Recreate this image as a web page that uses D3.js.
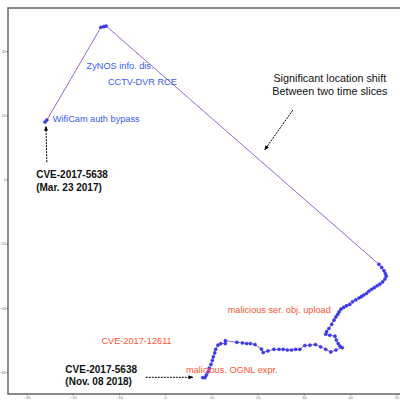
<!DOCTYPE html>
<html>
<head>
<meta charset="utf-8">
<script src="https://cdn.jsdelivr.net/npm/d3@7"></script>
<style>
  body { margin: 0; background: #fff; }
  svg { display: block; font-family: "Liberation Sans", Arial, sans-serif; }
</style>
</head>
<body>
<script>
// trajectory in time order (Mar 2017 -> Nov 2018)
const trajX = [-26.0, -25.6, -13.9, -13.3, -12.8,
  46.2, 46.8, 47.3, 47.6, 47.8, 47.5, 47.0, 46.4, 45.8, 45.2, 44.6, 44.0, 43.5, 42.9, 42.4,
  41.9, 41.2, 40.5, 39.9, 39.2, 38.6, 38.0, 37.6, 37.3, 36.9, 36.5, 36.0, 35.4, 34.9, 34.7,
  35.6, 36.7, 37.0, 37.4, 37.8, 38.3, 36.9, 35.8, 34.7, 33.6, 32.5, 31.3, 30.2, 29.1, 28.2,
  27.3, 26.4, 25.5, 24.6, 23.5, 22.2, 21.2, 20.8, 19.4, 18.4, 17.6, 16.7, 15.5, 13.0, 13.0,
  12.0, 11.4, 10.9, 10.7, 10.4, 10.2, 9.9, 9.5, 9.3, 8.9, 8.6, 8.1];
const trajY = [17.9, 18.5, 47.4, 47.6, 47.8,
  -26.4, -27.4, -28.4, -29.3, -30.1, -31.0, -31.9, -32.6, -33.1, -33.7, -34.2, -34.8, -35.5, -36.0, -36.5,
  -36.9, -37.5, -38.1, -38.9, -39.3, -39.8, -40.4, -41.2, -42.0, -42.8, -43.8, -45.1, -46.4, -47.4, -48.2,
  -48.5, -48.8, -50.0, -51.1, -51.9, -52.4, -53.1, -53.7, -52.9, -52.1, -51.4, -51.6, -51.7, -52.9, -52.9,
  -53.1, -53.1, -52.9, -52.9, -52.9, -53.4, -53.9, -52.8, -51.4, -51.1, -51.1, -50.9, -50.7, -50.2, -51.1,
  -51.1, -51.6, -52.9, -54.0, -55.2, -56.3, -57.6, -58.8, -59.9, -60.9, -61.7, -61.7];

const xTicks = [-30, -20, -10, 0, 10, 20, 30, 40, 50];
const yTicks = [-60, -40, -20, 0, 20, 40];

// labels: [text, x, y, kind]
const labels = [
  ["ZyNOS info. dis.", -17.0, 35.3, "blue"],
  ["CCTV-DVR RCE", -12.4, 30.3, "blue"],
  ["WifiCam auth bypass", -24.3, 18.8, "blue"],
  ["CVE-2017-5638", -27.9, 1.7, "bold"],
  ["(Mar. 23 2017)", -27.9, -2.4, "bold"],
  ["Significant location shift", 35.6, 31.6, "note"],
  ["Between two time slices", 35.6, 27.5, "note"],
  ["malicious ser. obj. upload", 13.5, -40.5, "red"],
  ["CVE-2017-12611", -13.8, -50.2, "red"],
  ["malicious. OGNL expr.", 4.5, -59.2, "red"],
  ["CVE-2017-5638", -21.6, -59.2, "bold"],
  ["(Nov. 08 2018)", -21.6, -62.8, "bold"]
];

// arrows: [x1, y1, x2, y2] (tip at x2,y2)
const arrows = [
  [-25.6, 5.4, -25.8, 16.6],
  [27.6, 21.6, 21.5, 9.2],
  [-4.2, -61.6, 6.0, -61.6]
];

const w = 400, h = 400;

const x = d3.scaleLinear().domain([-34, 51.2]).range([8, 402]);
const y = d3.scaleLinear().domain([53.4, -66.8]).range([8, 394]);

const svg = d3.select("body").append("svg")
  .attr("width", w)
  .attr("height", h);

svg.append("defs").append("marker")
  .attr("id", "head")
  .attr("viewBox", "0 0 10 10")
  .attr("refX", 9).attr("refY", 5)
  .attr("markerWidth", 5).attr("markerHeight", 5)
  .attr("orient", "auto")
  .append("path")
  .attr("d", "M0,1 L10,5 L0,9 z")
  .attr("fill", "#000");

// frame
svg.append("path")
  .attr("d", `M${x(51.2)},${y(53.4)} H${x(-34)} V${y(-66.8)} H${x(51.2)}`)
  .attr("fill", "none")
  .attr("stroke", "#666")
  .attr("stroke-width", 1.5);

const xAxis = svg.append("g")
  .attr("transform", `translate(0,${y(-66.8)})`)
  .call(d3.axisBottom(x).tickValues(xTicks).tickSize(1.2).tickPadding(0.8));
const yAxis = svg.append("g")
  .attr("transform", `translate(${x(-34)},0)`)
  .call(d3.axisLeft(y).tickValues(yTicks).tickSize(1.2).tickPadding(0.6));

[xAxis, yAxis].forEach(g => {
  g.select(".domain").remove();
  g.selectAll("line").attr("stroke", "#555");
  g.selectAll("text").attr("font-size", 4).attr("fill", "#777");
});

const pts = trajX.map((d, i) => [d, trajY[i]]);

svg.append("path")
  .datum(pts)
  .attr("fill", "none")
  .attr("stroke", "#9966cc")
  .attr("stroke-width", 1)
  .attr("d", d3.line().x(d => x(d[0])).y(d => y(d[1])));

svg.selectAll("circle.pt")
  .data(pts)
  .enter()
  .append("circle")
  .attr("class", "pt")
  .attr("cx", d => x(d[0]))
  .attr("cy", d => y(d[1]))
  .attr("r", 1.6)
  .attr("fill", "#3b3bf5")
  .attr("stroke", "#2a2ac0")
  .attr("stroke-width", 0.4);

const colors = { blue: "#3a5cf5", red: "#ff5533", bold: "#111", note: "#111" };
const sizes = { blue: 9.2, red: 9.2, bold: 10, note: 10.8 };

svg.selectAll("text.lbl")
  .data(labels)
  .enter()
  .append("text")
  .attr("class", "lbl")
  .attr("x", d => x(d[1]))
  .attr("y", d => y(d[2]))
  .attr("dy", "0.35em")
  .attr("text-anchor", d => d[3] === "note" ? "middle" : "start")
  .attr("font-size", d => sizes[d[3]])
  .attr("font-weight", d => d[3] === "bold" ? "bold" : "normal")
  .attr("fill", d => colors[d[3]])
  .text(d => d[0]);

svg.selectAll("line.arrow")
  .data(arrows)
  .enter()
  .append("line")
  .attr("class", "arrow")
  .attr("x1", d => x(d[0]))
  .attr("y1", d => y(d[1]))
  .attr("x2", d => x(d[2]))
  .attr("y2", d => y(d[3]))
  .attr("stroke", "#000")
  .attr("stroke-width", 1)
  .attr("stroke-dasharray", "2,1")
  .attr("marker-end", "url(#head)");
</script>
</body>
</html>
